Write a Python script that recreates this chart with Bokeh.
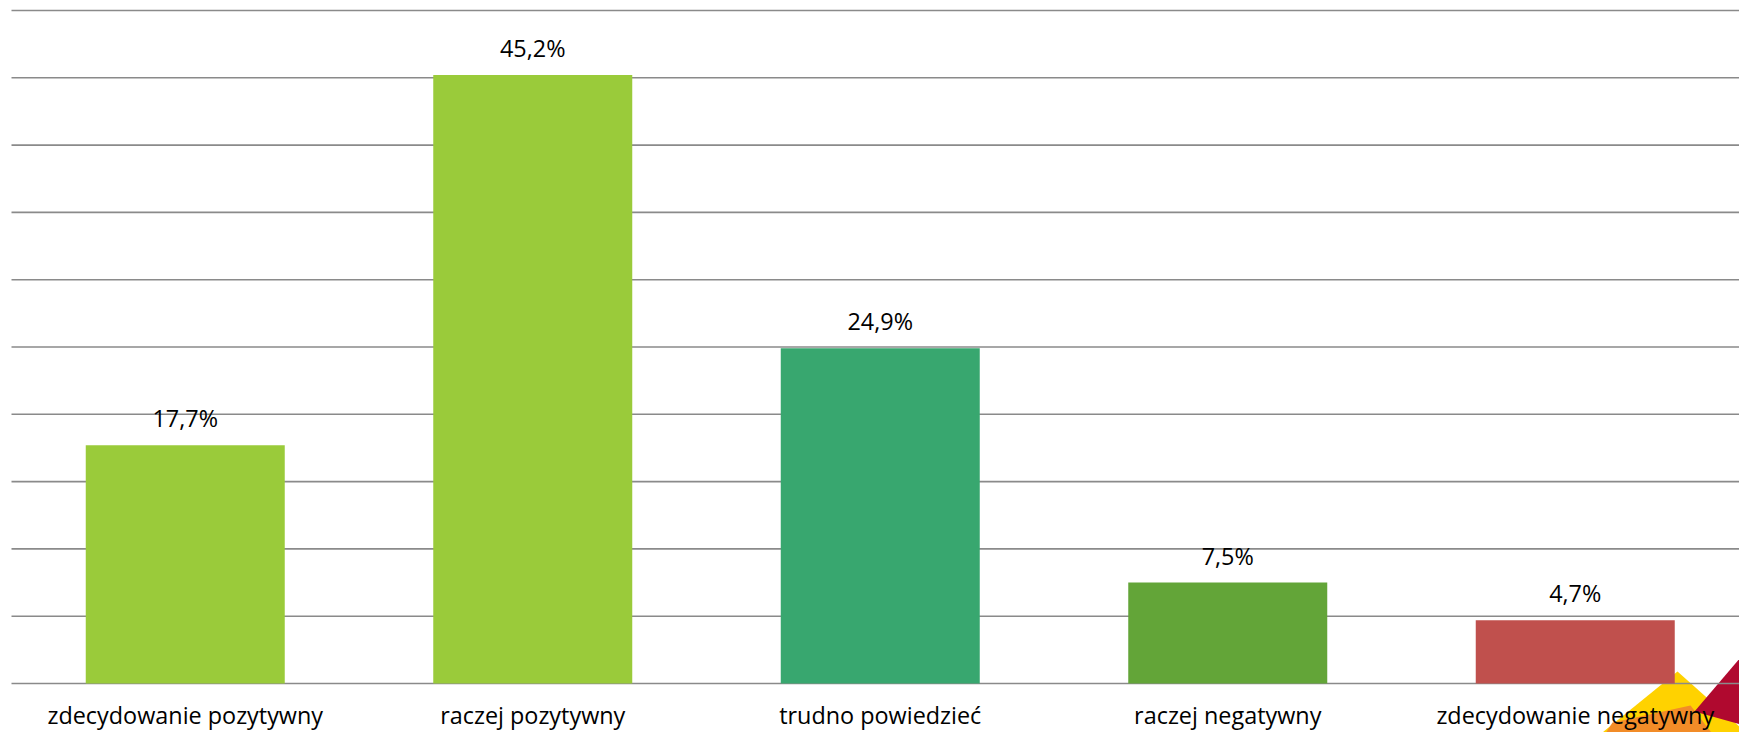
from bokeh.plotting import figure
from bokeh.models import Range1d, ColumnDataSource, PolyAnnotation
from bokeh.core.properties import value
from bokeh.embed import file_html
from bokeh.resources import INLINE

categories = ["zdecydowanie pozytywny", "raczej pozytywny", "trudno powiedzieć",
              "raczej negatywny", "zdecydowanie negatywny"]
values = [17.7, 45.2, 24.9, 7.5, 4.7]
colors = ["#9ACB3A", "#9ACB3A", "#38A76F", "#63A538", "#C0504D"]
grid_ticks = [0, 5, 10, 15, 20, 25, 30, 35, 40, 45, 50]

FONT = "Open Sans"
FS = "23.4px"

W, H = 1739, 732
CAT_PX = 347.5            # pixels per category
LEFT_PX = 11              # left edge of the category area
PX_PER_UNIT = 673 / 50.0  # pixels per percent
ZERO_PX = 683             # page y of 0 %

xs = [i + 0.5 for i in range(len(categories))]
labels = [f"{v:.1f}".replace(".", ",") + "%" for v in values]

src = ColumnDataSource(dict(x=xs, top=values, color=colors, label=labels))
cat_src = ColumnDataSource(dict(x=xs, y=[0] * len(xs), cat=categories))

x_end = (W - LEFT_PX) / CAT_PX
p = figure(width=W, height=H, output_backend="svg", toolbar_location=None,
           x_range=Range1d(-LEFT_PX / CAT_PX, x_end),
           y_range=Range1d(-(H - ZERO_PX) / PX_PER_UNIT, 50 + 10 / PX_PER_UNIT),
           x_axis_location=None, y_axis_location=None,
           min_border=0)
p.outline_line_color = None
p.background_fill_color = "white"
p.border_fill_color = "white"
p.xgrid.visible = False
p.ygrid.visible = False

# decorative logo fragment in the bottom-right corner (canvas pixels)
def poly(pts, color):
    a = PolyAnnotation(xs=[x for x, _ in pts], ys=[y for _, y in pts],
                       xs_units="canvas", ys_units="canvas",
                       fill_color=color, fill_alpha=1.0, line_color=None,
                       level="underlay")
    p.add_layout(a)

poly([(1677, 671), (1597, 736), (1750, 736)], "#FFD200")
poly([(1612, 722), (1690, 705), (1714, 736), (1603, 736)], "#F28C28")
poly([(1740, 657), (1694, 711), (1740, 724)], "#B0092F")

# horizontal gridlines
p.segment(x0=0, x1=x_end, y0=grid_ticks, y1=grid_ticks,
          line_color="#8a8a8a", line_width=1.6)

p.vbar(x="x", top="top", bottom=0, width=199 / CAT_PX, color="color",
       line_color=None, source=src)

p.text(x="x", y="top", text="label", source=src, y_offset=-27,
       text_align="center", text_baseline="alphabetic",
       text_font=value(FONT), text_font_size=FS, text_color="#000000")

p.text(x="x", y="y", text="cat", source=cat_src, y_offset=31,
       text_align="center", text_baseline="middle",
       text_font=value(FONT), text_font_size=FS, text_color="#000000")

open("out.html", "w").write(file_html(p, INLINE))
